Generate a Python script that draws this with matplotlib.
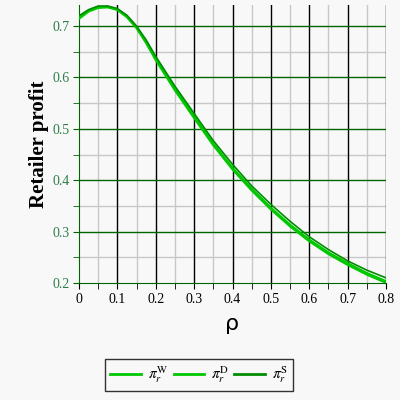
import matplotlib
matplotlib.use("Agg")
import matplotlib.pyplot as plt
import numpy as np

# donnees
rho = [0, 0.025, 0.05, 0.075, 0.1, 0.125, 0.15, 0.175, 0.2, 0.25, 0.3, 0.35,
       0.4, 0.45, 0.5, 0.55, 0.6, 0.65, 0.7, 0.75, 0.8]
pi_W = [0.715, 0.729, 0.736, 0.737, 0.732, 0.718, 0.697, 0.668, 0.635, 0.576,
        0.522, 0.469, 0.422, 0.381, 0.344, 0.311, 0.282, 0.257, 0.236, 0.217, 0.201]
pi_D = [0.717, 0.730, 0.737, 0.738, 0.733, 0.719, 0.698, 0.670, 0.637, 0.579,
        0.525, 0.472, 0.425, 0.384, 0.347, 0.314, 0.285, 0.260, 0.239, 0.220, 0.204]
pi_S = [0.720, 0.732, 0.739, 0.739, 0.734, 0.721, 0.700, 0.673, 0.641, 0.583,
        0.530, 0.477, 0.431, 0.389, 0.353, 0.320, 0.290, 0.265, 0.243, 0.225, 0.210]
labels = [r"$\pi_r^{\mathrm{W}}$", r"$\pi_r^{\mathrm{D}}$", r"$\pi_r^{\mathrm{S}}$"]
xticks = [0, 0.1, 0.2, 0.3, 0.4, 0.5, 0.6, 0.7, 0.8]
yticks = [0.2, 0.3, 0.4, 0.5, 0.6, 0.7]

plt.rcParams['font.family'] = ['Liberation Serif', 'DejaVu Serif']
plt.rcParams['mathtext.fontset'] = 'stix'

bg = "#f8f8f8"
fig = plt.figure(figsize=(4, 4), dpi=100, facecolor=bg)
ax = fig.add_axes([0.1975, 0.2925, 0.7675, 0.695], facecolor=bg)

# grille
for x in np.arange(0.05, 0.8, 0.1):
    ax.axvline(x, color="#c8c8c8", lw=1, zorder=0)
for y in np.arange(0.25, 0.74, 0.1):
    ax.axhline(y, color="#c8c8c8", lw=1, zorder=0)
for x in xticks[1:]:
    ax.axvline(x, color="black", lw=1, zorder=1)
for y in yticks[1:]:
    ax.axhline(y, color="#006400", lw=1, zorder=1)

ax.plot(rho, pi_W, color="#00c800", lw=2.0, label=labels[0], zorder=3)
ax.plot(rho, pi_D, color="#00c800", lw=1.2, label=labels[1], zorder=3)
ax.plot(rho, pi_S, color="#008c00", lw=1.2, label=labels[2], zorder=3)

ax.set_xlim(0, 0.8)
ax.set_ylim(0.2, 0.741)
ax.set_xticks(xticks)
ax.set_xticklabels([str(x) if x != 0 else "0" for x in xticks])
ax.set_xticks(np.arange(0.05, 0.8, 0.1), minor=True)
ax.set_yticks(yticks)
ax.set_yticklabels([str(y) for y in yticks])
ax.set_yticks(np.arange(0.25, 0.74, 0.1), minor=True)

for s in ["top", "right"]:
    ax.spines[s].set_visible(False)
ax.spines["left"].set_color("#006400")
ax.spines["bottom"].set_color("#006400")
ax.tick_params(axis="x", which="both", direction="out", length=4, colors="black",
               labelsize=10, pad=3)
ax.tick_params(axis="y", which="both", direction="out", length=4, colors="#006400",
               labelsize=10, pad=3, labelcolor="#2e7d4a")

ax.set_xlabel("ρ", family="DejaVu Sans", fontsize=16, labelpad=6)
ax.set_ylabel("Retailer profit", fontsize=15, fontweight="bold", labelpad=2)

leg = fig.legend(loc="center", bbox_to_anchor=(0.4975, 0.0625), ncol=3,
                 frameon=True, fancybox=False, edgecolor="black", facecolor=bg,
                 fontsize=11, handlelength=2.0, columnspacing=0.35,
                 borderpad=0.35, handletextpad=0.45)
leg.get_frame().set_linewidth(1)
for line in leg.get_lines():
    line.set_linewidth(2)

fig.savefig("out.png", dpi=100, facecolor=bg)
